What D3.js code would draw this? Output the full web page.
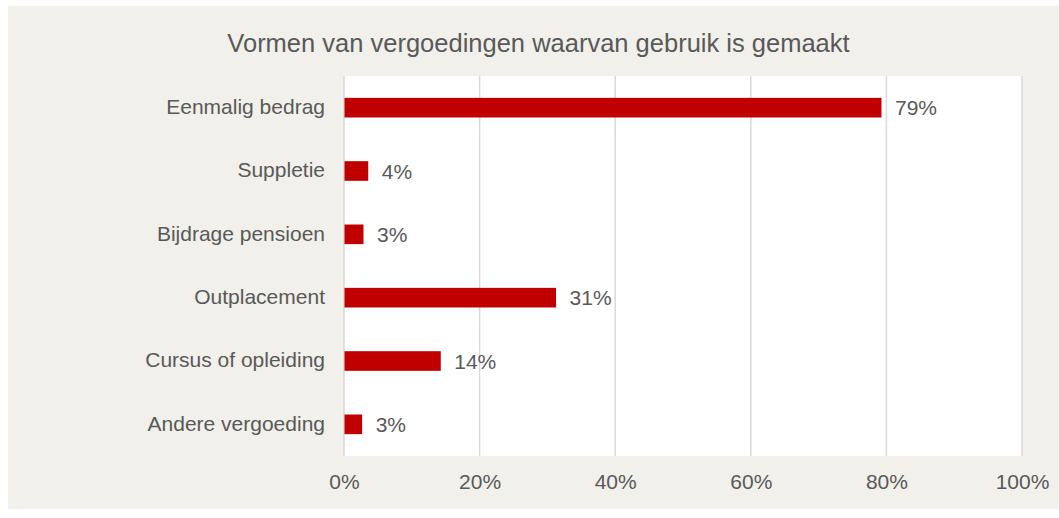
<!DOCTYPE html>
<html>
<head>
<meta charset="utf-8">
<script src="https://cdn.jsdelivr.net/npm/d3@7"></script>
<style>
  html, body { margin: 0; padding: 0; background: #ffffff; }
  svg { display: block; }
  text { font-family: "Liberation Sans", Arial, sans-serif; fill: #595959; }
</style>
</head>
<body>
<script>
const title = "Vormen van vergoedingen waarvan gebruik is gemaakt";
const categories = ["Eenmalig bedrag", "Suppletie", "Bijdrage pensioen", "Outplacement", "Cursus of opleiding", "Andere vergoeding"];
const values = [79.2, 3.5, 2.8, 31.2, 14.2, 2.6];
const valueLabels = ["79%", "4%", "3%", "31%", "14%", "3%"];
const xTicks = [0, 20, 40, 60, 80, 100];

const W = 1059, H = 518;
const svg = d3.select("body").append("svg").attr("width", W).attr("height", H);

// chart frame
svg.append("rect").attr("x", 8).attr("y", 6).attr("width", W - 8).attr("height", 503).attr("fill", "#f1f0ea");

const plot = { left: 344, right: 1022, top: 76, bottom: 456 };
svg.append("rect")
  .attr("x", plot.left).attr("y", plot.top)
  .attr("width", plot.right - plot.left).attr("height", plot.bottom - plot.top)
  .attr("fill", "#ffffff");

const x = d3.scaleLinear().domain([0, 100]).range([plot.left, plot.right]);
const y = d3.scaleBand().domain(categories).range([plot.top, plot.bottom])
  .paddingInner(0.69).paddingOuter(0.345);

// gridlines
svg.append("g").selectAll("line").data(xTicks).join("line")
  .attr("x1", d => x(d)).attr("x2", d => x(d))
  .attr("y1", plot.top).attr("y2", plot.bottom)
  .attr("stroke", "#d9d9d9").attr("stroke-width", 1.5);

// x axis labels
const xAxis = d3.axisBottom(x).tickValues(xTicks).tickFormat(d => d + "%").tickSize(0).tickPadding(0);
const gx = svg.append("g").attr("transform", `translate(0,${plot.bottom})`).call(xAxis);
gx.select(".domain").remove();
gx.selectAll("text")
  .attr("y", 33).attr("dy", null)
  .style("font-size", "21px").style("font-family", "'Liberation Sans', Arial, sans-serif")
  .attr("fill", "#595959");

// y axis labels
const yAxis = d3.axisLeft(y).tickSize(0).tickPadding(19);
const gy = svg.append("g").attr("transform", `translate(${plot.left},0)`).call(yAxis);
gy.select(".domain").remove();
gy.selectAll("text")
  .attr("dy", "0.3em")
  .style("font-size", "21px").style("font-family", "'Liberation Sans', Arial, sans-serif")
  .attr("fill", "#595959");

// bars
svg.append("g").selectAll("rect").data(values).join("rect")
  .attr("x", x(0) + 0.5)
  .attr("y", (d, i) => y(categories[i]))
  .attr("width", d => x(d) - x(0))
  .attr("height", y.bandwidth())
  .attr("fill", "#c00000");

// value labels
svg.append("g").selectAll("text").data(values).join("text")
  .attr("x", d => x(d) + 14)
  .attr("y", (d, i) => y(categories[i]) + y.bandwidth() / 2)
  .attr("dy", "0.36em")
  .style("font-size", "21px")
  .text((d, i) => valueLabels[i]);

// title
svg.append("text")
  .attr("x", 538.5).attr("y", 52)
  .attr("text-anchor", "middle")
  .style("font-size", "25.5px")
  .text(title);
</script>
</body>
</html>
